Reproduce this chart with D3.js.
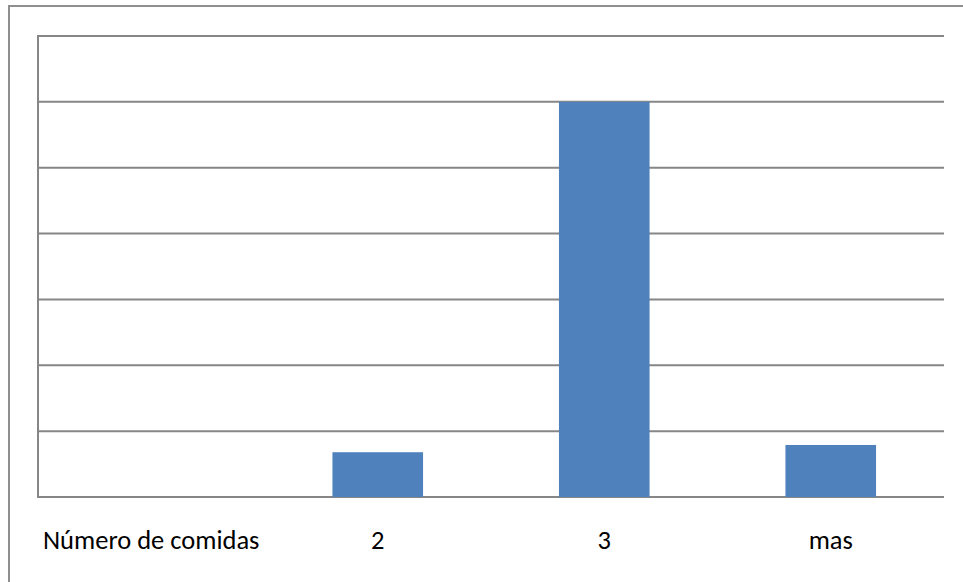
<!DOCTYPE html>
<html>
<head>
<meta charset="utf-8">
<script src="https://cdn.jsdelivr.net/npm/d3@7/dist/d3.min.js"></script>
<style>
  html, body { margin: 0; padding: 0; background: #fff; }
  svg { display: block; }
  text { font-family: Carlito, Calibri, Lato, sans-serif; fill: #000; }
</style>
</head>
<body>
<svg id="chart" width="963" height="582"></svg>
<script>
// Categories and values
const categories = ["Número de comidas", "2", "3", "mas"];
const values = [0, 0.68, 6, 0.79];
const yTicks = [0, 1, 2, 3, 4, 5, 6, 7];

const W = 963, H = 582;
const plot = { left: 38, right: 944, top: 36, bottom: 497 };

const svg = d3.select("#chart");

// outer frame (runs off the right and bottom edges)
svg.append("rect")
  .attr("x", 9).attr("y", 6)
  .attr("width", 1000).attr("height", 1000)
  .attr("fill", "none")
  .attr("stroke", "#8f8f8f")
  .attr("stroke-width", 2);

const x = d3.scaleBand()
  .domain(categories)
  .range([plot.left, plot.right])
  .paddingInner(0.6)
  .paddingOuter(0.3);

const y = d3.scaleLinear()
  .domain([0, 7])
  .range([plot.bottom, plot.top]);

// horizontal gridlines
svg.append("g")
  .selectAll("line")
  .data(yTicks)
  .join("line")
  .attr("x1", plot.left).attr("x2", plot.right)
  .attr("y1", d => y(d)).attr("y2", d => y(d))
  .attr("stroke", "#868686")
  .attr("stroke-width", 2);

// left axis line
svg.append("line")
  .attr("x1", plot.left).attr("x2", plot.left)
  .attr("y1", plot.top - 1).attr("y2", plot.bottom + 1)
  .attr("stroke", "#868686")
  .attr("stroke-width", 2);

// bars
svg.append("g")
  .selectAll("rect")
  .data(categories.map((c, i) => ({ c, v: values[i] })).filter(d => d.v > 0))
  .join("rect")
  .attr("x", d => x(d.c))
  .attr("width", x.bandwidth())
  .attr("y", d => y(d.v))
  .attr("height", d => y(0) - y(d.v))
  .attr("fill", "#4f81bd");

// category labels
const center = c => x(c) + x.bandwidth() / 2;
svg.append("g")
  .selectAll("text")
  .data(categories)
  .join("text")
  .attr("x", d => center(d))
  .attr("y", 549)
  .attr("text-anchor", "middle")
  .attr("font-size", 26.5)
  .text(d => d);
</script>
</body>
</html>
